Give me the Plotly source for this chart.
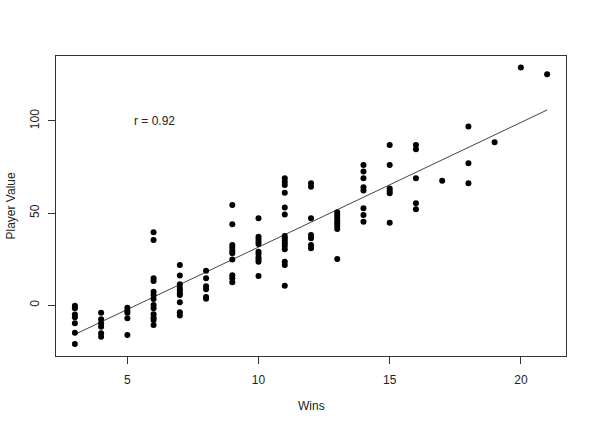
import numpy as np
import plotly.graph_objects as go

win_levels = [3, 4, 5, 6, 7, 8, 9, 10, 11, 12, 13, 14, 15, 16, 17, 18, 19, 20, 21]
values_by_win = [
    [-0.3, -1.6, -5.0, -6.5, -9.8, -14.9, -21.0],
    [-4.0, -7.6, -9.8, -11.6, -15.2, -17.0],
    [-1.3, -2.9, -4.0, -7.0, -16.1],
    [39.6, 35.4, 14.6, 13.2, 7.4, 5.6, 3.4, 0.2, -1.6, -4.9, -6.7, -8.0, -10.7],
    [21.9, 16.1, 11.4, 9.5, 8.1, 6.5, 5.6, 1.6, -3.8, -5.6],
    [18.8, 14.6, 10.3, 8.7, 4.5, 3.6],
    [54.4, 43.9, 32.7, 31.2, 29.6, 28.2, 24.9, 16.3, 14.6, 12.5],
    [47.2, 37.2, 36.0, 34.5, 33.2, 29.1, 27.8, 26.0, 24.9, 23.6, 15.9],
    [68.9, 67.0, 65.2, 61.1, 53.1, 49.3, 37.6, 36.3, 35.0, 33.6, 32.2, 30.4, 23.6, 21.9, 10.6],
    [66.2, 64.3, 47.2, 38.1, 36.3, 32.7, 30.9],
    [50.4, 49.0, 47.5, 45.9, 44.5, 43.0, 41.4, 25.1],
    [76.1, 72.5, 68.9, 64.0, 62.2, 52.6, 49.0, 45.3],
    [86.9, 76.1, 63.4, 62.0, 60.7, 44.8],
    [86.9, 84.6, 68.9, 55.3, 52.1],
    [67.6],
    [96.9, 77.0, 66.2],
    [88.4],
    [128.9],
    [125.3],
]
x_ticks = [5, 10, 15, 20]
y_ticks = [0, 50, 100]
r_label = "r = 0.92"

wins = []
value = []
for w, vals in zip(win_levels, values_by_win):
    wins += [w] * len(vals)
    value += vals
wins = np.array(wins, dtype=float)
value = np.array(value, dtype=float)

slope, intercept = np.polyfit(wins, value, 1)
order = np.argsort(wins)
fit_x = wins[order]
fit_y = intercept + slope * fit_x

txt = "#222222"
axcol = "#333333"

fig = go.Figure()
fig.add_trace(go.Scatter(x=fit_x, y=fit_y, mode="lines",
                         line=dict(color="#444444", width=1), hoverinfo="skip"))
fig.add_trace(go.Scatter(x=wins, y=value, mode="markers",
                         marker=dict(color="black", size=6, line=dict(width=0))))

fig.add_annotation(x=6.05, y=100, text=r_label, showarrow=False,
                   font=dict(size=12, color=txt), xanchor="center", yanchor="middle")
fig.add_annotation(x=0.5, y=-0.167, xref="paper", yref="paper", text="Wins",
                   showarrow=False, font=dict(size=12, color=txt),
                   xanchor="center", yanchor="middle")
fig.add_annotation(x=-0.0892, y=0.5, xref="paper", yref="paper", text="Player Value",
                   showarrow=False, textangle=-90, font=dict(size=12, color=txt),
                   xanchor="center", yanchor="middle")

fig.update_layout(
    width=595, height=427,
    margin=dict(l=56, r=29, t=56, b=71),
    paper_bgcolor="white", plot_bgcolor="white",
    showlegend=False,
    font=dict(family="Liberation Sans, Arial, sans-serif", size=12, color=txt),
)
fig.update_xaxes(range=[2.28, 21.72], tickvals=x_ticks, ticks="outside", ticklen=7,
                 tickcolor=axcol, showline=True, linecolor=axcol, linewidth=1,
                 mirror=True, showgrid=False, zeroline=False,
                 tickfont=dict(size=12, color=txt), ticklabelstandoff=6)
fig.update_yaxes(range=[-27.5, 135.2], tickvals=y_ticks, ticks="outside", ticklen=7,
                 tickcolor=axcol, showline=True, linecolor=axcol, linewidth=1,
                 mirror=True, showgrid=False, zeroline=False, tickangle=-90,
                 tickfont=dict(size=12, color=txt), ticklabelstandoff=4)

fig.write_html("out.html", config={"displayModeBar": False},
               post_script="document.body.style.margin='0';document.body.style.overflow='hidden';")
